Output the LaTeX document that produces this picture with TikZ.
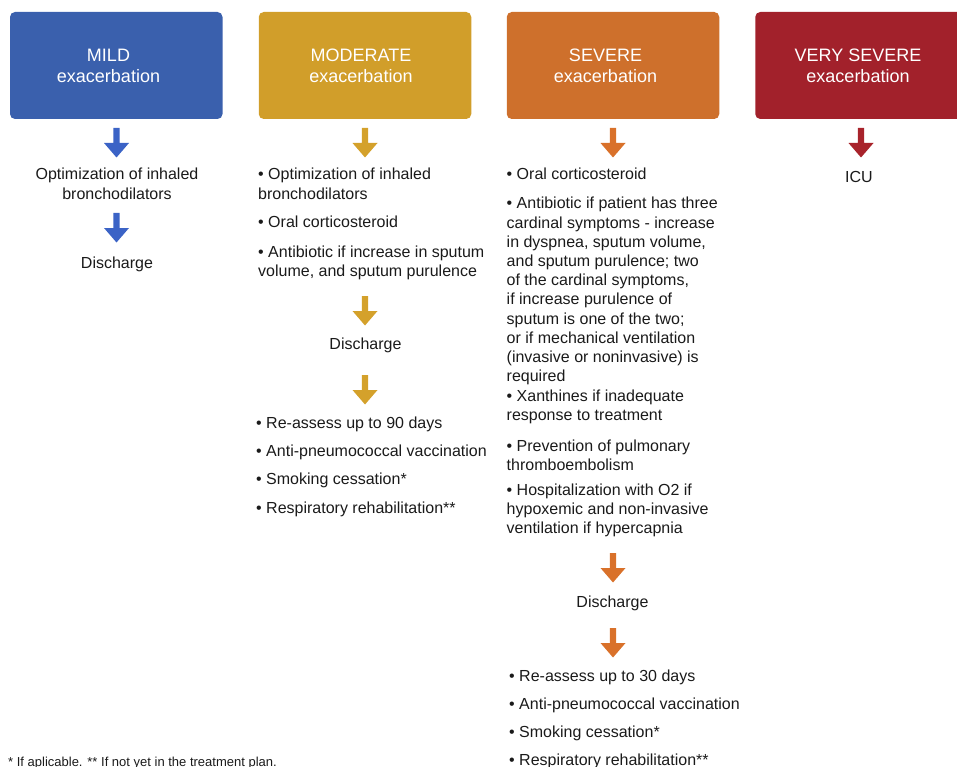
\documentclass[tikz,border=0pt]{standalone}
\usepackage{fontspec}
\setmainfont{Liberation Sans}
\definecolor{cMild}{HTML}{3A60AD}
\definecolor{cMildA}{HTML}{3B63C6}
\definecolor{cMod}{HTML}{D19E2A}
\definecolor{cModA}{HTML}{D4A12B}
\definecolor{cSev}{HTML}{CE702C}
\definecolor{cSevA}{HTML}{D9712A}
\definecolor{cVs}{HTML}{A2212B}
\definecolor{cVsA}{HTML}{A8232B}
\definecolor{ink}{HTML}{1A1A1A}
\newcommand\txtL[1]{\begin{tabular}[t]{@{}l@{}}#1\end{tabular}}
\newcommand\txtC[1]{\begin{tabular}[t]{@{}c@{}}#1\end{tabular}}
\begin{document}
\begin{tikzpicture}[x=1pt,y=-1pt,
  box/.style={rectangle, rounded corners=5pt, minimum width=212.5pt, minimum height=107pt, inner sep=0pt, draw=none},
  boxtxt/.style={inner sep=0pt, text=white, anchor=base, font=\fontsize{18}{21}\selectfont},
  body/.style={inner sep=0pt, text=ink, font=\fontsize{16}{19.2}\selectfont},
  lt/.style={body, anchor=base west},
  ct/.style={body, anchor=base},
  blockarrow/.pic={\fill (-3.2,0) -- (3.2,0) -- (3.2,15) -- (12.5,15) -- (0,29.5) -- (-12.5,15) -- (-3.2,15) -- cycle;}
]
\useasboundingbox (0,0) rectangle (957,767);

% header boxes
\node[box, fill=cMild] (mild) at (116.25,65.5) {};
\node[box, fill=cMod] (mod) at (365,65.5) {};
\node[box, fill=cSev] (sev) at (613,65.5) {};
\node[box, fill=cVs] (vs) at (861.5,65.5) {};
\node[boxtxt] (mildT) at (108.5,62) {\txtC{MILD\\exacerbation}};
\node[boxtxt] (modT) at (361,62) {\txtC{MODERATE\\exacerbation}};
\node[boxtxt] (sevT) at (605.5,62) {\txtC{SEVERE\\exacerbation}};
\node[boxtxt] (vsT) at (858,62) {\txtC{VERY SEVERE\\exacerbation}};

% MILD column
\pic[color=cMildA] at (116.5,128) {blockarrow};
\node[ct] (m1) at (117,180) {\txtC{Optimization of inhaled\\bronchodilators}};
\pic[color=cMildA] at (116.5,213) {blockarrow};
\node[ct] (m2) at (117,268) {Discharge};

% MODERATE column
\pic[color=cModA] at (365,128) {blockarrow};
\node[lt] (d1) at (258,180) {\txtL{• Optimization of inhaled\\bronchodilators}};
\node[lt] (d2) at (258,227) {• Oral corticosteroid};
\node[lt] (d3) at (258,257) {\txtL{• Antibiotic if increase in sputum\\volume, and sputum purulence}};
\pic[color=cModA] at (365,296) {blockarrow};
\node[ct] (d4) at (365.5,349) {Discharge};
\pic[color=cModA] at (365,375) {blockarrow};
\node[lt] (d5) at (256,428) {• Re-assess up to 90 days};
\node[lt] (d6) at (256,456.3) {• Anti-pneumococcal vaccination};
\node[lt] (d7) at (256,484.6) {• Smoking cessation*};
\node[lt] (d8) at (256,513) {• Respiratory rehabilitation**};

% SEVERE column
\pic[color=cSevA] at (613,128) {blockarrow};
\node[lt] (s1) at (506.5,180) {• Oral corticosteroid};
\node[lt] (s2) at (506.5,209) {\txtL{• Antibiotic if patient has three\\cardinal symptoms - increase\\in dyspnea, sputum volume,\\and sputum purulence; two\\of the cardinal symptoms,\\if increase purulence of\\sputum is one of the two;\\or if mechanical ventilation\\(invasive or noninvasive) is\\required\\• Xanthines if inadequate\\response to treatment}};
\node[lt] (s3) at (506.5,451) {\txtL{• Prevention of pulmonary\\thromboembolism}};
\node[lt] (s4) at (506.5,495) {\txtL{• Hospitalization with O2 if\\hypoxemic and non-invasive\\ventilation if hypercapnia}};
\pic[color=cSevA] at (613,553) {blockarrow};
\node[ct] (s5) at (612.5,607) {Discharge};
\pic[color=cSevA] at (613,628) {blockarrow};
\node[lt] (s6) at (509,681) {• Re-assess up to 30 days};
\node[lt] (s7) at (509,709.3) {• Anti-pneumococcal vaccination};
\node[lt] (s8) at (509,737.6) {• Smoking cessation*};
\node[lt] (s9) at (509,765.9) {• Respiratory rehabilitation**};

% VERY SEVERE column
\pic[color=cVsA] at (861,128) {blockarrow};
\node[ct] (icu) at (859,183) {ICU};

% footnote
\node[inner sep=0pt, anchor=base west, text=ink, font=\fontsize{13}{15}\selectfont] (fn) at (8,766) {* If aplicable. ** If not yet in the treatment plan.};
\end{tikzpicture}
\end{document}
